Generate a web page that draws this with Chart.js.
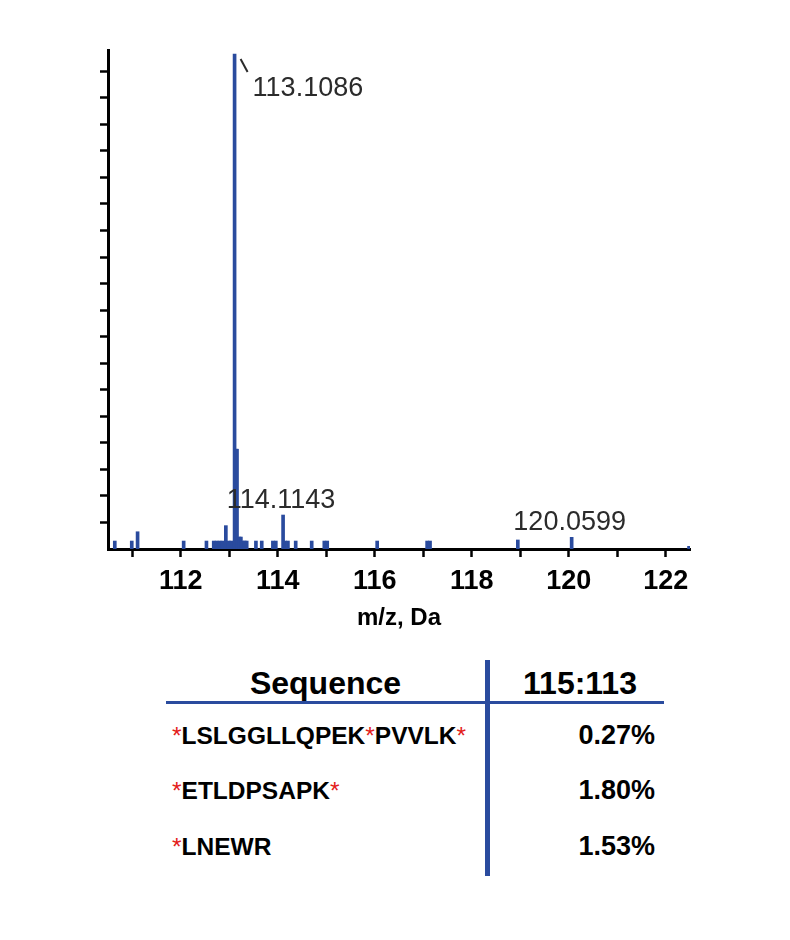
<!DOCTYPE html>
<html>
<head>
<meta charset="utf-8">
<script src="https://cdn.jsdelivr.net/npm/chart.js@4/dist/chart.umd.min.js"></script>
<style>
  body { margin: 0; background: #fff; }
  #wrap { position: relative; width: 790px; height: 940px; font-family: "Liberation Sans", Arial, sans-serif; }
  #chartBox { position: absolute; left: 0; top: 0; width: 790px; height: 640px; }
  .hline { position: absolute; left: 166px; top: 701px; width: 498px; height: 3px; background: #2a4b9e; }
  .vline { position: absolute; left: 485px; top: 660px; width: 5px; height: 216px; background: #2a4b9e; }
  .th { position: absolute; top: 665px; font-weight: bold; font-size: 32px; text-align: center; color: #000; }
  .seq { position: absolute; left: 172px; font-weight: bold; font-size: 24.5px; color: #000; white-space: nowrap; }
  .val { position: absolute; right: 135px; font-weight: bold; font-size: 27px; color: #000; text-align: right; }
  .star { color: #e3201b; font-weight: normal; }
</style>
</head>
<body>
<div id="wrap">
  <div id="chartBox"><canvas id="spec"></canvas></div>
  <div id="table"></div>
</div>
<script>
// peak list (m/z, intensity in arbitrary units)
const peakMz = [110.64, 110.99, 111.11, 112.06, 112.53, 112.68, 112.74, 112.80, 112.86, 112.93,
  112.99, 113.04, 113.11, 113.14, 113.16, 113.21, 113.24, 113.28, 113.32, 113.36,
  113.55, 113.67, 113.90, 113.96, 114.11, 114.15, 114.21, 114.37, 114.70, 114.96,
  115.02, 116.05, 117.08, 117.14, 118.95, 120.06, 122.48];
const peakIntensity = [0.3, 0.3, 0.65, 0.3, 0.3, 0.3, 0.3, 0.3, 0.3, 0.88,
  0.3, 0.3, 18.65, 3.76, 3.76, 0.45, 0.45, 0.3, 0.3, 0.3,
  0.3, 0.3, 0.3, 0.3, 1.28, 0.3, 0.3, 0.3, 0.3, 0.3,
  0.3, 0.3, 0.3, 0.3, 0.34, 0.44, 0.1];

const labelMz   = [113.11, 114.11, 120.06];
const labelText = ['113.1086', '114.1143', '120.0599'];

const xTicks = [111, 112, 113, 114, 115, 116, 117, 118, 119, 120, 121, 122];

const sequences = [
  ['*', 'LSLGGLLQPEK', '*', 'PVVLK', '*'],
  ['*', 'ETLDPSAPK', '*'],
  ['*', 'LNEWR']
];
const ratios = ['0.27%', '1.80%', '1.53%'];
const tableHead = ['Sequence', '115:113'];

// table below the spectrum
const table = document.getElementById('table');
table.innerHTML =
  '<div class="th" style="left:166px;width:319px">' + tableHead[0] + '</div>' +
  '<div class="th" style="left:490px;width:180px">' + tableHead[1] + '</div>' +
  '<div class="hline"></div><div class="vline"></div>';
const rowTop = [722, 777, 833];
sequences.forEach((parts, i) => {
  const html = parts.map(p => p === '*' ? '<span class="star">*</span>' : p).join('');
  table.innerHTML += '<div class="seq" style="top:' + rowTop[i] + 'px">' + html + '</div>' +
    '<div class="val" style="top:' + (rowTop[i] - 2) + 'px">' + ratios[i] + '</div>';
});

const peakLabels = {
  id: 'peakLabels',
  afterDatasetsDraw(chart) {
    const c = chart.ctx, xs = chart.scales.x, ys = chart.scales.y;
    c.save();
    c.fillStyle = '#2b2b2b';
    c.strokeStyle = '#2b2b2b';
    c.font = '27px "Liberation Sans", Arial, sans-serif';
    c.textBaseline = 'alphabetic';
    labelMz.forEach((m, i) => {
      const h = peakIntensity[peakMz.indexOf(m)];
      const px = xs.getPixelForValue(m), py = ys.getPixelForValue(h);
      if (i === 0) {
        c.lineWidth = 2;
        c.beginPath();
        c.moveTo(px + 6, py + 5);
        c.lineTo(px + 13, py + 18);
        c.stroke();
        c.textAlign = 'left';
        c.fillText(labelText[i], px + 18, py + 42);
      } else {
        c.textAlign = 'center';
        c.fillText(labelText[i], px - 2, py - 7);
      }
    });
    c.restore();
  }
};

new Chart(document.getElementById('spec'), {
  type: 'bar',
  data: {
    datasets: [{
      data: peakMz.map((m, i) => ({ x: m, y: peakIntensity[i] })),
      backgroundColor: '#2a4b9e',
      barThickness: 3,
      grouped: false
    }]
  },
  options: {
    responsive: true,
    maintainAspectRatio: false,
    animation: false,
    layout: { padding: { left: 100, right: 100, top: 50, bottom: 7 } },
    plugins: { legend: { display: false }, tooltip: { enabled: false } },
    scales: {
      x: {
        type: 'linear',
        offset: false,
        min: 110.5,
        max: 122.5,
        z: 1,
        afterBuildTicks: axis => { axis.ticks = xTicks.map(v => ({ value: v })); },
        border: { color: '#000', width: 3 },
        grid: { offset: false, drawOnChartArea: false, drawTicks: true, tickLength: 8, tickWidth: 2.5, tickColor: '#000' },
        ticks: {
          color: '#000',
          padding: 11,
          maxRotation: 0,
          autoSkip: false,
          font: { family: '"Liberation Sans", Arial, sans-serif', size: 27, weight: 'bold', lineHeight: 1 },
          callback: v => (v % 2 === 0 ? String(v) : '')
        },
        title: {
          display: true,
          text: 'm/z, Da',
          color: '#000',
          padding: { top: 0, bottom: 3 },
          font: { family: '"Liberation Sans", Arial, sans-serif', size: 24, weight: 'bold', lineHeight: 1 }
        }
      },
      y: {
        min: 0,
        max: 18.8,
        z: 1,
        afterBuildTicks: axis => { axis.ticks = Array.from({ length: 18 }, (_, k) => ({ value: k + 1 })); },
        border: { color: '#000', width: 3 },
        grid: { drawOnChartArea: false, drawTicks: true, tickLength: 8, tickWidth: 2.5, tickColor: '#000' },
        ticks: { display: false }
      }
    }
  },
  plugins: [peakLabels]
});
</script>
</body>
</html>
